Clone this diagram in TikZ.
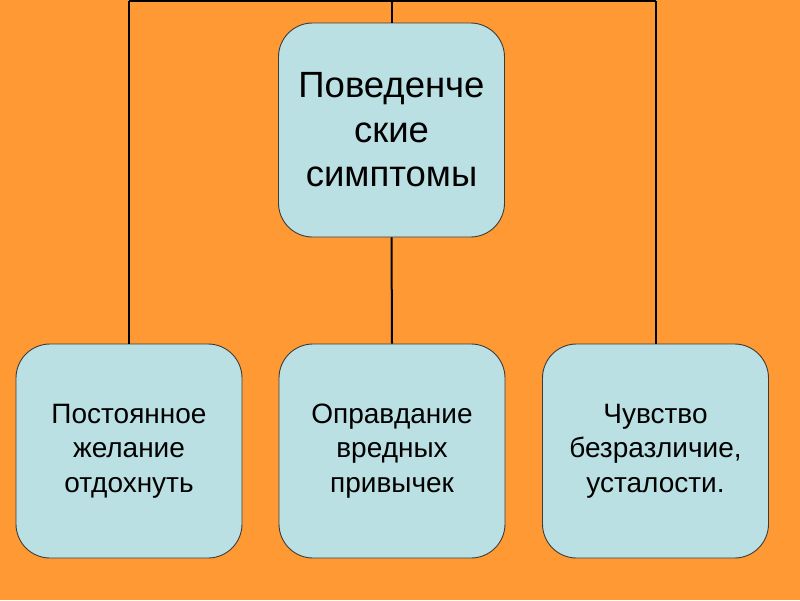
\documentclass[tikz,border=0pt]{standalone}
\usepackage{fontspec}
\setmainfont{Liberation Sans}
\usetikzlibrary{positioning}
\definecolor{bgorange}{HTML}{FF9933}
\definecolor{boxblue}{HTML}{BBE0E3}
\definecolor{edge}{HTML}{3C3C3C}

\begin{document}
\begin{tikzpicture}[
  x=1pt, y=-1pt,
  sym/.style ={rounded corners=34pt, draw=edge, line width=0.9pt, fill=boxblue,
               text=black, align=center, inner sep=0pt,
               minimum width=226pt, minimum height=214pt,
               font=\fontsize{28}{34.5}\selectfont},
  head/.style={sym, font=\fontsize{36.5}{44.5}\selectfont},
  link/.style={draw=black, line width=2pt},
]
  % --- fondo ---
  \fill[bgorange] (0,0) rectangle (800,600);
  \useasboundingbox (0,0) rectangle (800,600);

  % --- cajas ---
  \node[head] (beh)   at (391.5,130) {Поведенче\\ские\\симптомы};
  \node[sym]  (rest)  at (129,451)   {Постоянное\\желание\\отдохнуть};
  \node[sym]  (habit) at (392,451)   {Оправдание\\вредных\\привычек};
  \node[sym]  (tired) at (655.5,451) {Чувство\\безразличие,\\усталости.};

  % --- líneas ---
  \coordinate (topc) at (391.5,0);
  \coordinate (barl) at (129,1);
  \coordinate (barr) at (655.5,1);
  \draw[link] (barl) -- (barr);
  \draw[link] (topc) -- (beh.north);
  \draw[link] (beh.south) -- (habit.north);
  \draw[link] (barl) -- (rest.north);
  \draw[link] (barr) -- (tired.north);
\end{tikzpicture}
\end{document}
